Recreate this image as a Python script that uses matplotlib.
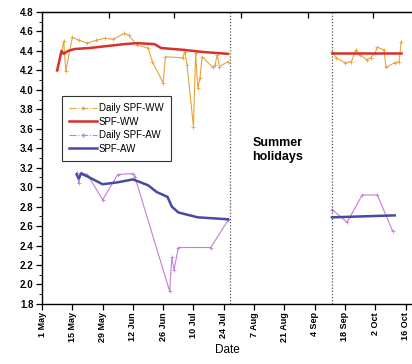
import matplotlib
matplotlib.use("Agg")
import matplotlib.pyplot as plt
from matplotlib.lines import Line2D
import pandas as pd

plt.rcParams['font.family'] = ['Liberation Sans', 'DejaVu Sans']

# Data
ww_daily_dates = ['05-08', '05-10', '05-11', '05-12', '05-15', '05-18', '05-22', '05-26', '05-30',
                  '06-03', '06-08', '06-10', '06-14', '06-19', '06-21', '06-26', '06-27', '07-05',
                  '07-06', '07-07', '07-10', '07-11', '07-12', '07-13', '07-14', '07-19', '07-20',
                  '07-21', '07-22', '07-26']
ww_daily = [4.20, 4.38, 4.50, 4.19, 4.54, 4.51, 4.48, 4.51, 4.53,
            4.52, 4.58, 4.56, 4.46, 4.43, 4.29, 4.07, 4.34, 4.33,
            4.39, 4.26, 3.62, 4.38, 4.02, 4.12, 4.34, 4.23, 4.26,
            4.36, 4.24, 4.29]
ww_daily2_dates = ['09-12', '09-14', '09-18', '09-21', '09-23', '09-25', '09-28', '09-30',
                   '10-02', '10-03', '10-06', '10-07', '10-11', '10-13', '10-14']
ww_daily2 = [4.39, 4.33, 4.28, 4.29, 4.41, 4.36, 4.31, 4.33, 4.38, 4.44, 4.41, 4.23, 4.28, 4.29, 4.49]

spf_ww_dates = ['05-08', '05-10', '05-11', '05-13', '05-16', '05-23', '05-31', '06-08', '06-14',
                '06-22', '06-25', '07-06', '07-14', '07-26']
spf_ww = [4.20, 4.40, 4.37, 4.40, 4.42, 4.43, 4.45, 4.47, 4.48, 4.47, 4.43, 4.41, 4.39, 4.37]
spf_ww2_dates = ['09-12', '10-14']
spf_ww2 = [4.38, 4.38]

aw_daily_dates = ['05-17', '05-18', '05-19', '05-22', '05-29', '06-05', '06-12', '06-13', '06-29',
                  '06-30', '07-01', '07-03', '07-18', '07-26']
aw_daily = [3.15, 3.04, 3.15, 3.13, 2.87, 3.13, 3.14, 3.10, 1.93, 2.28, 2.15, 2.38, 2.38, 2.66]
aw_daily2_dates = ['09-12', '09-19', '09-26', '10-03', '10-10']
aw_daily2 = [2.77, 2.64, 2.92, 2.92, 2.55]

spf_aw_dates = ['05-17', '05-18', '05-19', '05-22', '05-29', '06-05', '06-12', '06-19', '06-23',
                '06-28', '06-30', '07-03', '07-12', '07-19', '07-26']
spf_aw = [3.13, 3.09, 3.14, 3.11, 3.03, 3.05, 3.08, 3.02, 2.95, 2.90, 2.80, 2.74, 2.69, 2.68, 2.67]
spf_aw2_dates = ['09-12', '10-11']
spf_aw2 = [2.69, 2.71]

holiday_bounds = ['07-27', '09-12']
tick_dates = ['05-01', '05-15', '05-29', '06-12', '06-26', '07-10', '07-24', '08-07', '08-21',
              '09-04', '09-18', '10-02', '10-16']
tick_labels = ['1 May', '15 May', '29 May', '12 Jun', '26 Jun', '10 Jul', '24 Jul', '7 Aug',
               '21 Aug', '4 Sep', '18 Sep', '2 Oct', '16 Oct']
top_ticks = ['06-01', '07-01', '08-01', '09-01', '10-01']


def d(lst):
    return pd.to_datetime(['2009-' + s for s in lst])


c_ww_daily = '#e8a43c'
c_ww = '#d8302a'
c_aw_daily = '#c47fd6'
c_aw = '#4848a8'

fig = plt.figure(figsize=(4.12, 3.64), dpi=100)
ax = fig.add_axes([0.102, 0.165, 0.898, 0.802])

ax.plot(d(ww_daily_dates), ww_daily, color=c_ww_daily, lw=0.8, marker='+', ms=2.5, mew=0.6)
ax.plot(d(ww_daily2_dates), ww_daily2, color=c_ww_daily, lw=0.8, marker='+', ms=2.5, mew=0.6)
ax.plot(d(spf_ww_dates), spf_ww, color=c_ww, lw=1.8)
ax.plot(d(spf_ww2_dates), spf_ww2, color=c_ww, lw=1.8)
ax.plot(d(aw_daily_dates), aw_daily, color=c_aw_daily, lw=0.8, marker='+', ms=2.5, mew=0.6)
ax.plot(d(aw_daily2_dates), aw_daily2, color=c_aw_daily, lw=0.8, marker='+', ms=2.5, mew=0.6)
ax.plot(d(spf_aw_dates), spf_aw, color=c_aw, lw=1.8)
ax.plot(d(spf_aw2_dates), spf_aw2, color=c_aw, lw=1.8)

for b in d(holiday_bounds):
    ax.axvline(b, color='#555555', lw=0.9, ls=(0, (1, 1.5)))

ax.text(pd.Timestamp('2009-08-18'), 3.38, 'Summer\nholidays', ha='center', va='center',
        fontsize=9, fontweight='bold')

ax.set_xlim(pd.Timestamp('2009-05-01'), pd.Timestamp('2009-10-19'))
ax.set_ylim(1.8, 4.8)
ax.set_yticks([1.8 + 0.2 * i for i in range(16)])
ax.set_yticks([1.9 + 0.2 * i for i in range(15)], minor=True)
ax.set_xticks(d(tick_dates))
ax.set_xticklabels(tick_labels, rotation=90, fontsize=6.5, fontweight='bold')
for lab in ax.get_yticklabels():
    lab.set_fontweight('bold')
    lab.set_fontsize(7)
ax.tick_params(axis='both', which='major', length=4, width=0.9, direction='out', pad=2)
ax.tick_params(axis='y', which='minor', length=2, width=0.6, direction='out')
ax.spines['right'].set_visible(False)
for s in ['left', 'bottom', 'top']:
    ax.spines[s].set_linewidth(1.0)

sec = ax.secondary_xaxis('top')
sec.set_xticks(d(top_ticks))
sec.set_xticklabels([])
sec.tick_params(direction='in', length=4, width=0.9)

ax.set_xlabel('Date', fontsize=8.5, labelpad=1)

handles = [
    Line2D([], [], color=c_ww_daily, lw=0.8, ls='-.', marker='+', ms=2.5),
    Line2D([], [], color=c_ww, lw=1.8),
    Line2D([], [], color=c_aw_daily, lw=0.8, ls='-.', marker='+', ms=2.5),
    Line2D([], [], color=c_aw, lw=1.8),
]
leg = ax.legend(handles, ['Daily SPF-WW', 'SPF-WW', 'Daily SPF-AW', 'SPF-AW'],
                loc='upper left', bbox_to_anchor=(0.04, 0.73), fontsize=7,
                fancybox=False, edgecolor='#333333', framealpha=1,
                handlelength=2.8, handletextpad=0.2, labelspacing=0.35, borderpad=0.8)
leg.get_frame().set_linewidth(0.8)

fig.savefig('out.png', dpi=100)
